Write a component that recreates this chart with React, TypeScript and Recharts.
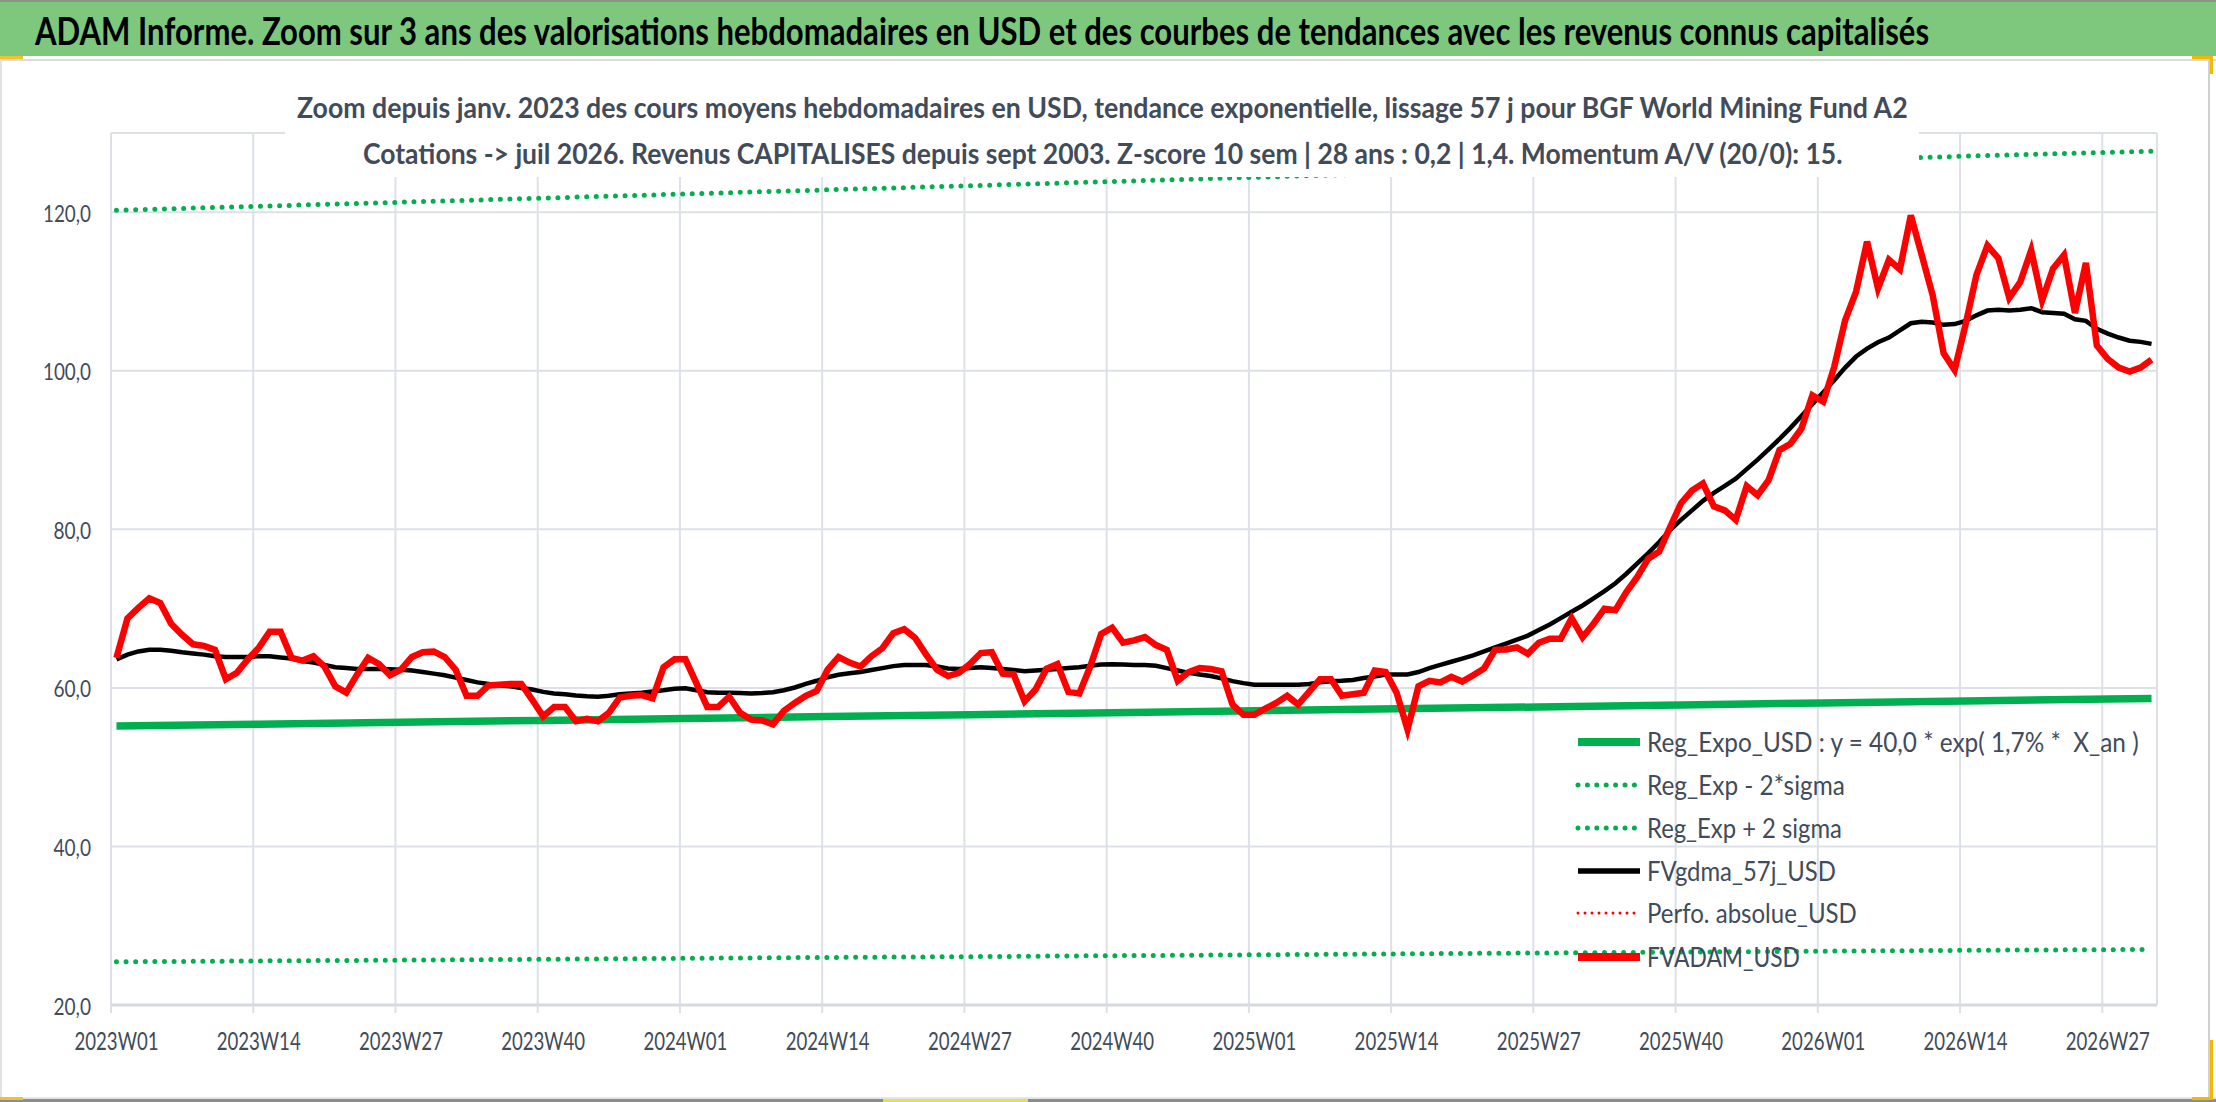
import { LineChart, Line, XAxis, YAxis, CartesianGrid } from 'recharts';

// Axis ticks (week index of each labelled category boundary)
const weekTicks = [0, 13, 26, 39, 52, 65, 78, 91, 104, 117, 130, 143, 156, 169, 182];
const tickLabels = [
  '2023W01', '2023W14', '2023W27', '2023W40',
  '2024W01', '2024W14', '2024W27', '2024W40',
  '2025W01', '2025W14', '2025W27', '2025W40',
  '2026W01', '2026W14', '2026W27',
];
const yTicks = [20, 40, 60, 80, 100, 120];

// Weekly average price (2023W01 .. 2026W31)
const fvadamUsd = [
  63.8, 68.75, 70.1, 71.3, 70.7, 68.1, 66.7, 65.5, 65.3, 64.8,
  61.1, 61.9, 63.6, 65.05, 67.1, 67.1, 63.8, 63.45, 64.0, 62.7,
  60.2, 59.4, 61.7, 63.8, 63.0, 61.6, 62.3, 63.9, 64.5, 64.6,
  63.9, 62.3, 59.0, 59.0, 60.3, 60.4, 60.5, 60.5, 58.5, 56.4,
  57.6, 57.6, 55.8, 56.1, 55.8, 56.85, 58.8, 59.0, 59.1, 58.7,
  62.6, 63.6, 63.6, 60.6, 57.6, 57.6, 58.9, 56.85, 56.0, 55.9,
  55.4, 57.1, 58.1, 59.0, 59.6, 62.3, 63.9, 63.2, 62.7, 64.0,
  65.0, 66.9, 67.4, 66.3, 64.2, 62.3, 61.5, 61.9, 63.0, 64.4,
  64.5, 61.8, 61.7, 58.3, 59.8, 62.4, 63.0, 59.5, 59.3, 62.7,
  66.8, 67.6, 65.7, 66.0, 66.4, 65.4, 64.8, 60.9, 62.0, 62.5,
  62.4, 62.1, 57.9, 56.6, 56.6, 57.4, 58.1, 59.0, 57.9, 59.5,
  61.1, 61.1, 59.0, 59.2, 59.4, 62.2, 62.0, 59.4, 54.75, 60.2,
  60.9, 60.7, 61.4, 60.8, 61.6, 62.45, 64.8, 64.85, 65.1, 64.3,
  65.7, 66.2, 66.2, 68.8, 66.4, 68.1, 70.0, 69.8, 72.1, 74.0,
  76.3, 77.2, 80.3, 83.3, 84.9, 85.8, 82.9, 82.4, 81.2, 85.45,
  84.3, 86.2, 90.0, 90.8, 92.7, 96.9, 96.1, 100.5, 106.4, 110.0,
  116.3, 110.4, 114.0, 112.8, 119.6, 114.6, 109.5, 102.2, 100.1, 105.8,
  112.1, 115.8, 114.2, 109.2, 111.2, 115.2, 108.9, 112.9, 114.6, 107.3,
  113.6, 103.2, 101.5, 100.4, 99.9, 100.4, 101.4,
];

// 57-day smoothing
const fvgdma57j = [
  63.6, 64.2, 64.6, 64.8, 64.8, 64.7, 64.5, 64.35, 64.2, 64.0,
  63.9, 63.9, 63.9, 64.0, 64.0, 63.85, 63.7, 63.4, 63.2, 62.9,
  62.6, 62.5, 62.4, 62.4, 62.4, 62.35, 62.3, 62.2, 62.0, 61.8,
  61.6, 61.3, 61.0, 60.7, 60.5, 60.3, 60.2, 60.0, 59.8, 59.5,
  59.3, 59.2, 59.05, 58.95, 58.9, 59.0, 59.2, 59.3, 59.4, 59.55,
  59.7, 59.9, 59.95, 59.7, 59.45, 59.4, 59.4, 59.35, 59.3, 59.35,
  59.45, 59.7, 60.05, 60.5, 60.9, 61.35, 61.65, 61.85, 62.0, 62.25,
  62.5, 62.75, 62.9, 62.9, 62.9, 62.7, 62.45, 62.4, 62.5, 62.6,
  62.5, 62.4, 62.25, 62.1, 62.2, 62.3, 62.4, 62.5, 62.6, 62.8,
  62.95, 63.0, 62.95, 62.9, 62.9, 62.8, 62.5, 62.2, 61.9, 61.7,
  61.5, 61.2, 60.85, 60.6, 60.4, 60.4, 60.4, 60.4, 60.4, 60.5,
  60.7, 60.85, 60.9, 61.0, 61.25, 61.45, 61.7, 61.7, 61.7, 62.0,
  62.5, 62.9, 63.3, 63.7, 64.1, 64.6, 65.1, 65.6, 66.1, 66.6,
  67.3, 68.0, 68.8, 69.6, 70.4, 71.3, 72.2, 73.2, 74.4, 75.7,
  77.0, 78.4, 79.9, 81.2, 82.4, 83.6, 84.6, 85.5, 86.4, 87.6,
  88.8, 90.1, 91.4, 92.8, 94.3, 95.8, 97.3, 98.8, 100.4, 101.8,
  102.8, 103.6, 104.2, 105.1, 106.0, 106.2, 106.1, 105.8, 105.9, 106.3,
  107.0, 107.6, 107.7, 107.6, 107.7, 107.9, 107.4, 107.3, 107.2, 106.5,
  106.3, 105.3, 104.7, 104.2, 103.8, 103.65, 103.4,
];

// Regression curves, read at the labelled weeks and at the last week
const trendWeeks = [0, 13, 26, 39, 52, 65, 78, 91, 104, 117, 130, 143, 156, 169, 182, 186];
const regExpoUsd = [55.2, 55.43, 55.67, 55.9, 56.15, 56.39, 56.62, 56.87, 57.11, 57.36, 57.6, 57.85, 58.1, 58.35, 58.6, 58.67];
const regExpMinus2s = [25.45, 25.56, 25.66, 25.77, 25.89, 26.0, 26.1, 26.22, 26.33, 26.45, 26.56, 26.67, 26.79, 26.9, 26.98, 27.0];
const regExpPlus2s = [120.25, 120.76, 121.27, 121.79, 122.31, 122.83, 123.35, 123.88, 124.41, 124.94, 125.47, 126.0, 126.54, 127.08, 127.55, 127.7];

const rows = fvadamUsd.map((v, i) => {
  const k = trendWeeks.indexOf(i);
  return {
    pos: i + 0.5,
    fvadam: v,
    fvgdma: fvgdma57j[i],
    reg: k >= 0 ? regExpoUsd[k] : null,
    low: k >= 0 ? regExpMinus2s[k] : null,
    high: k >= 0 ? regExpPlus2s[k] : null,
  };
});

const W = 2216;
const H = 1102;
const PLOT_L = 111;
const PLOT_R = 2157;
const PLOT_B = 1005;
const N_WEEKS = 187;
const HALF = (PLOT_R - PLOT_L) / N_WEEKS / 2;

const FONT = 'Lato, "Open Sans", sans-serif';
const CAP = 0.7165;
const TEXT = '#414b5a';
const GRID = '#dde1e7';
const GREEN = '#00b050';

// the source uses a narrow font: size each text to its width, then stretch it to its cap height
const measureCtx = typeof document !== 'undefined' ? document.createElement('canvas').getContext('2d') : null;

function FitText({ x, y, width, cap, text, weight = 400, anchor = 'start', fill = TEXT }: any) {
  let natural = width;
  if (measureCtx) {
    measureCtx.font = `${weight} 100px ${FONT}`;
    natural = measureCtx.measureText(text).width || width;
  }
  const size = (100 * width) / natural;
  const sy = cap / (CAP * size);
  return (
    <text transform={`translate(${x} ${y}) scale(1 ${sy})`} fontFamily={FONT} fontSize={size}
      fontWeight={weight} textAnchor={anchor} fill={fill} style={{ whiteSpace: 'pre' }}>
      {text}
    </text>
  );
}

const XTick = (props: any) => {
  const { x, payload } = props;
  const label = tickLabels[weekTicks.indexOf(payload.value)];
  return <FitText x={x + HALF} y={PLOT_B + 45} width={84} cap={18.3} anchor="middle" text={label} />;
};

const YTick = (props: any) => {
  const { y, payload } = props;
  const label = payload.value.toFixed(1).replace('.', ',');
  const digits = label.length - 1;
  return <FitText x={91} y={y + 9.5} width={digits * 10.5 + 6} cap={16.7} anchor="end" text={label} />;
};

const legendItems = [
  { name: 'Reg_Expo_USD : y = 40,0 * exp( 1,7% *  X_an )', color: GREEN, width: 8, dash: undefined, len: 493 },
  { name: 'Reg_Exp - 2*sigma', color: GREEN, width: 5, dash: '0 9.4', len: 198 },
  { name: 'Reg_Exp + 2 sigma', color: GREEN, width: 5, dash: '0 9.4', len: 195 },
  { name: 'FVgdma_57j_USD', color: '#000000', width: 5.5, dash: undefined, len: 189 },
  { name: 'Perfo. absolue_USD', color: '#ff0000', width: 3, dash: '0 7', len: 210 },
  { name: 'FVADAM_USD', color: '#ff0000', width: 8, dash: undefined, len: 153 },
];
const legendRows = [742, 785, 828, 871, 913, 957];

function ChartLegend() {
  const left = 1560;
  const top = 715;
  return (
    <svg width={640} height={270} style={{ position: 'absolute', left, top }}>
      {legendItems.map((it, i) => {
        const cy = legendRows[i] - top;
        return (
          <g key={it.name}>
            <line x1={18} x2={80} y1={cy} y2={cy} stroke={it.color} strokeWidth={it.width}
              strokeDasharray={it.dash} strokeLinecap={it.dash ? 'round' : 'butt'} />
            <FitText x={87} y={cy + 10} width={it.len} cap={20} text={it.name} />
          </g>
        );
      })}
    </svg>
  );
}

const box = (style: any) => <div style={{ position: 'absolute', ...style }} />;

export default function App() {
  return (
    <div style={{ position: 'absolute', left: 0, top: 0, width: W, height: H, overflow: 'hidden', background: '#ffffff' }}>
      <div style={{ position: 'absolute', left: 0, top: 0 }}>
        <LineChart width={W} height={H} data={rows} margin={{ top: 133, right: W - PLOT_R, bottom: 47, left: 31 }}>
          <CartesianGrid stroke={GRID} strokeWidth={2} />
          <XAxis
            type="number"
            dataKey="pos"
            domain={[0, N_WEEKS]}
            ticks={weekTicks}
            interval={0}
            height={50}
            tickSize={8}
            tickMargin={0}
            axisLine={{ stroke: '#d6d9de', strokeWidth: 3 }}
            tickLine={{ stroke: GRID, strokeWidth: 2 }}
            tick={<XTick />}
          />
          <YAxis
            type="number"
            domain={[20, 130]}
            ticks={yTicks}
            width={80}
            axisLine={false}
            tickLine={false}
            tickSize={0}
            tickMargin={20}
            tick={<YTick />}
          />
          <Line type="linear" dataKey="reg" stroke={GREEN} strokeWidth={7.5} dot={false} activeDot={false}
            connectNulls isAnimationActive={false} />
          <Line type="linear" dataKey="low" stroke={GREEN} strokeWidth={5} strokeDasharray="0 9.6"
            strokeLinecap="round" dot={false} activeDot={false} connectNulls isAnimationActive={false} />
          <Line type="linear" dataKey="high" stroke={GREEN} strokeWidth={5} strokeDasharray="0 9.6"
            strokeLinecap="round" dot={false} activeDot={false} connectNulls isAnimationActive={false} />
          <Line type="linear" dataKey="fvgdma" stroke="#000000" strokeWidth={4.5} dot={false} activeDot={false}
            isAnimationActive={false} />
          <Line type="linear" dataKey="fvadam" stroke="#ff0000" strokeWidth={6.5} dot={false} activeDot={false}
            isAnimationActive={false} />
        </LineChart>
      </div>

      {/* header band */}
      <div style={{ position: 'absolute', left: 0, top: 0, width: W, height: 56, background: '#7dc87d', borderTop: '2px solid #8a948a', boxSizing: 'border-box' }} />
      <svg width={W} height={56} style={{ position: 'absolute', left: 0, top: 0 }}>
        <FitText x={35} y={45} width={1896} cap={27} weight={700} fill="#000000"
          text="ADAM Informe. Zoom sur 3 ans des valorisations hebdomadaires en USD et des courbes de tendances avec les revenus connus capitalisés" />
      </svg>
      {box({ left: 0, top: 59, width: W, height: 2, background: '#dcdcdc' })}

      {/* chart title overlaid on the plot */}
      {box({ left: 285, top: 66, width: 1634, height: 111, background: '#ffffff' })}
      <svg width={W} height={180} style={{ position: 'absolute', left: 0, top: 0 }}>
        <FitText x={297} y={118} width={1614} cap={21} weight={700}
          text="Zoom depuis janv. 2023 des cours moyens hebdomadaires en USD, tendance exponentielle, lissage 57 j pour BGF World Mining Fund A2" />
        <FitText x={363} y={164.3} width={1482} cap={21} weight={700}
          text="Cotations -> juil 2026. Revenus CAPITALISES depuis sept 2003. Z-score 10 sem | 28 ans : 0,2 | 1,4. Momentum A/V (20/0): 15." />
      </svg>

      <ChartLegend />

      {/* frame and selection marks */}
      {box({ left: 0, top: 56, width: 2, height: H - 56, background: '#e2e2e2' })}
      {box({ left: 2208, top: 58, width: 2, height: H - 58, background: '#d0d0d0' })}
      {box({ left: 0, top: 1097, width: W, height: 2, background: '#e4e4e4' })}
      {box({ left: 0, top: 1099, width: W, height: 3, background: '#8c8c8c' })}
      {box({ left: 0, top: 56, width: 23, height: 3, background: '#f2c12e' })}
      {box({ left: 2192, top: 56, width: 21, height: 3, background: '#f5b800' })}
      {box({ left: 2210, top: 56, width: 3, height: 18, background: '#f5b800' })}
      {box({ left: 2210, top: 1040, width: 3, height: 60, background: '#f5b800' })}
      {box({ left: 2192, top: 1097, width: 21, height: 3, background: '#f5b800' })}
      {box({ left: 0, top: 1097, width: 23, height: 3, background: '#f2c12e' })}
      {box({ left: 883, top: 1099, width: 145, height: 3, background: '#e6e04a' })}
    </div>
  );
}
